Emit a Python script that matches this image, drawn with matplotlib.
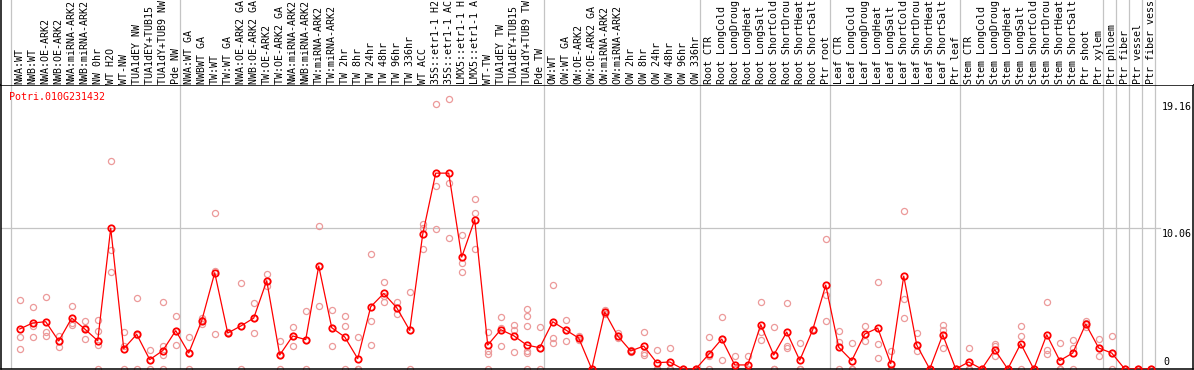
import matplotlib
matplotlib.use("Agg")
import matplotlib.pyplot as plt
import matplotlib.transforms as mtransforms
import numpy as np

gene = "Potri.010G231432"

labels = [
    "NWA:WT", "NWB:WT", "NWA:OE-ARK2", "NWB:OE-ARK2", "NWA:miRNA-ARK2", "NWB:miRNA-ARK2",
    "NW 0hr", "WT H2O", "WT-NW", "TUA1dEY NW", "TUA1dEY+TUB15 ", "TUA1dY+TUB9 NW", "Pde NW",
    "NWA:WT GA", "NWBWT GA", "TW:WT", "TW:WT GA", "NWA:OE-ARK2 GA", "NWB:OE-ARK2 GA",
    "TW:OE-ARK2", "TW:OE-ARK2 GA", "NWA:miRNA-ARK2", "NWB:miRNA-ARK2", "TW:miRNA-ARK2",
    "TW:miRNA-ARK2 ", "TW 2hr", "TW 8hr", "TW 24hr", "TW 48hr", "TW 96hr", "TW 336hr",
    "WT ACC", "35S::etr1-1 H2", "35S::etr1-1 AC", "LMX5::etr1-1 H", "LMX5::etr1-1 A",
    "WT-TW", "TUA1dEY TW", "TUA1dEY+TUB15 ", "TUA1dY+TUB9 TW", "Pde TW",
    "OW:WT", "OW:WT GA", "OW:OE-ARK2", "OW:OE-ARK2 GA", "OW:miRNA-ARK2", "OW:miRNA-ARK2 ",
    "OW 2hr", "OW 8hr", "OW 24hr", "OW 48hr", "OW 96hr", "OW 336hr",
    "Root CTR", "Root LongCold", "Root LongDroug", "Root LongHeat", "Root LongSalt",
    "Root ShortCold", "Root ShortDrou", "Root ShortHeat", "Root ShortSalt", "Ptr root",
    "Leaf CTR", "Leaf LongCold", "Leaf LongDroug", "Leaf LongHeat", "Leaf LongSalt",
    "Leaf ShortCold", "Leaf ShortDrou", "Leaf ShortHeat", "Leaf ShortSalt", "Ptr leaf",
    "Stem CTR", "Stem LongCold", "Stem LongDroug", "Stem LongHeat", "Stem LongSalt",
    "Stem ShortCold", "Stem ShortDrou", "Stem ShortHeat", "Stem ShortSalt", "Ptr shoot",
    "Ptr xylem", "Ptr phloem", "Ptr fiber", "Ptr vessel", "Ptr fiber vess",
]

# first column of each group (last entry = end)
group_starts = [0, 13, 41, 53, 63, 73, 84, 85, 86, 87, 88]

means = [
    2.86, 3.29, 3.38, 2.0, 3.64, 2.86, 2.02, 10.07, 1.45, 2.48, 0.67, 1.31, 2.74,
    1.14, 3.45, 6.88, 2.57, 3.07, 3.64, 6.31, 1.0, 2.36, 2.1, 7.36, 2.95, 2.29, 0.74,
    4.45, 5.4, 4.38, 2.76, 9.64, 14.0, 14.0, 8.0, 10.67, 1.71, 2.81, 2.38, 1.71, 1.52,
    3.38, 2.79, 2.21, 0.0, 4.07, 2.36, 1.29, 1.64, 0.45, 0.5, 0.0, 0.0,
    1.05, 2.14, 0.29, 0.29, 3.17, 1.0, 2.64, 0.62, 2.81, 6.0,
    1.55, 0.6, 2.5, 2.93, 0.38, 6.64, 1.71, 0.0, 2.45, 0.0,
    0.5, 0.0, 1.38, 0.0, 1.81, 0.0, 2.45, 0.6, 1.14, 3.21, 1.5,
    1.14, 0.0, 0.0, 0.0,
]

replicates = [
    [4.95, 2.29, 1.43], [4.43, 3.05, 2.29], [5.14, 2.64, 2.33], [2.38, 2.0, 1.57],
    [4.5, 3.29, 3.17], [3.45, 2.95, 2.14], [3.5, 2.74, 1.71, 0], [14.86, 8.52, 6.93],
    [2.62, 1.62, 0], [5.07, 2.4, 0], [1.38, 0.62, 0], [4.81, 1.67, 1.0, 0],
    [3.79, 2.74, 1.71],
    [2.29, 1.14, 0], [3.64, 3.5, 3.21], [11.14, 7.0, 2.5], [2.62, 2.55, 2.55],
    [6.14, 3.07, 0], [4.71, 3.64, 2.57], [6.79, 6.31, 5.9], [2.02, 1.0, 0],
    [3.0, 2.36, 1.67], [4.14, 2.1, 0], [10.24, 7.36, 4.5], [4.24, 2.95, 1.64],
    [3.79, 3.07, 0], [2.29, 0, 0], [8.24, 3.4, 1.71], [6.21, 5.2, 4.81],
    [4.79, 4.38, 3.95], [5.5, 2.76, 0], [10.36, 10.07, 8.57], [18.93, 13.05, 10.0],
    [19.3, 13.29, 9.36], [9.6, 7.57, 6.93], [12.14, 11.14, 8.57], [2.64, 1.3, 1.1, 0],
    [3.71, 2.95, 1.64], [3.14, 2.81, 1.21], [4.31, 3.79, 3.07, 1.31, 1.14, 0],
    [3.0, 1.52, 0],
    [6.02, 2.21, 1.86], [3.5, 2.79, 2.0], [2.33, 2.21, 2.1], [0, 0, 0],
    [4.24, 4.07, 3.95], [2.57, 2.36, 2.21], [1.38, 1.29, 1.21], [2.64, 1.14, 0.98],
    [1.38, 0, 0], [1.5, 0, 0], [0, 0, 0], [0, 0, 0],
    [2.29, 0.9, 0], [3.71, 2.14, 0.64], [0.95, 0, 0], [0.9, 0, 0], [4.79, 2.62, 2.07],
    [3.0, 0, 0], [4.74, 1.67, 1.51], [1.86, 0, 0], [2.88, 2.81, 2.76], [9.29, 5.26, 3.45],
    [2.74, 1.93, 0], [1.86, 0, 0], [3.1, 2.5, 2.0], [6.21, 1.81, 0.81], [1.26, 0, 0],
    [11.29, 5.0, 3.64], [2.57, 1.71, 1.29], [0, 0, 0], [3.17, 2.76, 1.5], [0, 0, 0],
    [1.5, 0, 0], [0, 0, 0], [1.79, 1.62, 0.9], [0, 0, 0], [3.1, 2.33, 0], [0, 0, 0],
    [4.81, 1.38, 1.07], [1.86, 0, 0], [2.05, 1.5, 0], [3.4, 3.29, 3.0], [2.17, 1.5, 0.93],
    [2.38, 1.14, 0], [0, 0, 0], [0, 0, 0], [0, 0, 0],
]

yticks = [19.16, 10.06, 0]

W, H = 1194, 370
fig = plt.figure(figsize=(W / 100, H / 100), dpi=100)

def box(x0, y0, x1, y1):
    return [x0 / W, 1 - y1 / H, (x1 - x0) / W, (y1 - y0) / H]

ax = fig.add_axes(box(1, 85, 1193, 369))
hd = fig.add_axes(box(1, 0, 1193, 85), sharex=ax)

ax.set_xlim(-1.44, 90.25)
ax.set_ylim(0, 20.3)
hd.set_ylim(0, 1)

mono = "DejaVu Sans Mono"
grey = "#c4c4c4"

for a in (ax, hd):
    a.tick_params(left=False, bottom=False, labelleft=False, labelbottom=False)
    for b in group_starts:
        a.axvline(b - 0.67, color=grey, lw=0.9, zorder=1)
for s in ax.spines.values():
    s.set_color("black")
    s.set_linewidth(1.1)
for k in ("top", "right", "bottom"):
    hd.spines[k].set_visible(False)
hd.spines["left"].set_linewidth(1.1)

ax.axhline(10.06, xmax=0.972, color=grey, lw=0.9, zorder=1)

x = np.arange(len(means))
for i, reps in enumerate(replicates):
    ax.plot([i] * len(reps), reps, "o", ms=4.4, mfc="none", mec="#ec9a9a",
            mew=0.9, zorder=2)
ax.plot(x, means, color="red", lw=0.9, zorder=3)
ax.plot(x, means, "o", ms=4.6, mfc="none", mec="red", mew=1.3, zorder=4)

for i, lab in enumerate(labels):
    hd.text(i, 1.5 / 85, lab, rotation=90, ha="center", va="bottom",
            fontsize=7.2, family=mono, color="black")

fig.text(9 / W, 1 - 97 / H, gene, color="red", fontsize=7.2, family=mono,
         va="center", ha="left")

trans = mtransforms.blended_transform_factory(fig.transFigure, ax.transData)
for v in yticks:
    if v == 0:
        ax.annotate(str(v), xy=(1163 / W, v), xycoords=trans, xytext=(0, 2),
                    textcoords="offset pixels", va="bottom", ha="left",
                    fontsize=7.2, family=mono)
    else:
        ax.annotate(f"{v:.2f}", xy=(1162 / W, v), xycoords=trans, xytext=(0, -1),
                    textcoords="offset pixels", va="top", ha="left",
                    fontsize=7.2, family=mono)

fig.savefig("out.png", dpi=100)
